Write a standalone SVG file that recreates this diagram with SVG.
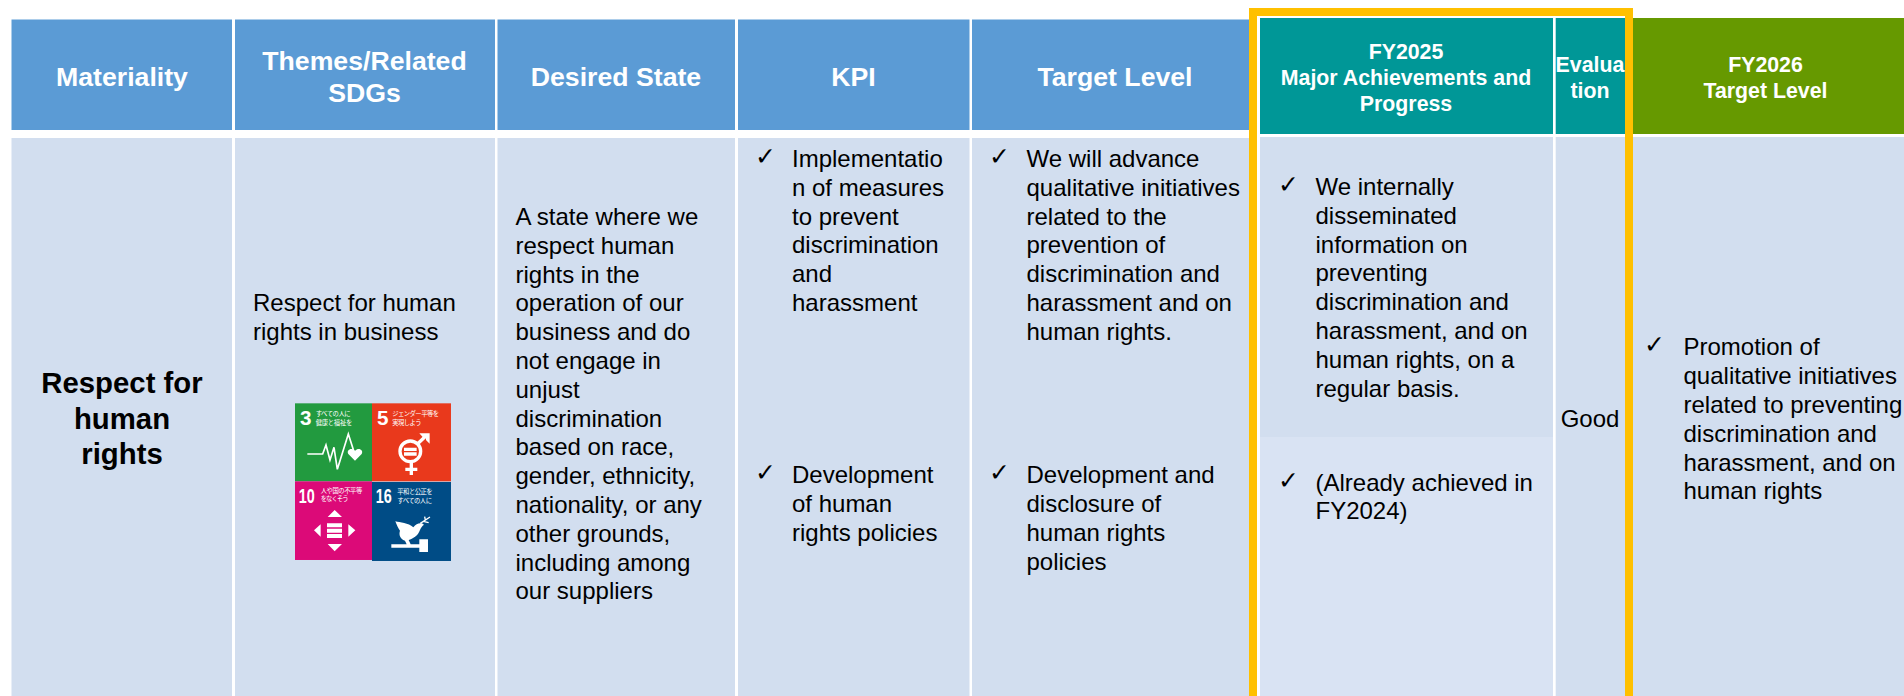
<svg xmlns="http://www.w3.org/2000/svg" width="1904" height="696" viewBox="0 0 1904 696">
<style>
text{font-family:"Liberation Sans",Arial,sans-serif}
.h{fill:#5B9BD5}.t{fill:#009797}.g{fill:#669900}.b{fill:#D2DEEF}.l{fill:#D9E3F3}
.hd{font-weight:700;font-size:26.67px;fill:#fff;text-anchor:middle}
.hs{font-weight:700;font-size:21.33px;fill:#fff;text-anchor:middle}
.tx{font-size:24px;fill:#000}
.ck{font-family:"DejaVu Sans",sans-serif;font-size:25px;fill:#000}
.n{font-weight:700;fill:#fff;font-size:62px}
.jp{font-family:"Noto Sans CJK JP",sans-serif;font-size:19px;fill:#fff}
.w{stroke:#fff;fill:none}
</style>
<rect width="1904" height="696" fill="#fff"/>
<g id="materiality">
<rect class="h" x="11.5" y="19.5" width="220.500" height="110.500"/>
<rect class="b" x="11.500" y="138" width="220.500" height="558"/>
<text class="hd" x="122" y="86">Materiality</text>
<text font-size="29.33" font-weight="700" text-anchor="middle"><tspan x="122" y="393">Respect for</tspan><tspan x="122" y="428.500">human</tspan><tspan x="122" y="464">rights</tspan></text>
</g>
<g id="themes">
<rect class="h" x="235" y="19.500" width="260" height="110.500"/>
<rect class="b" x="235" y="138" width="260" height="558"/>
<text class="hd"><tspan x="364.500" y="70">Themes/Related</tspan><tspan x="364.500" y="102">SDGs</tspan></text>
<text class="tx"><tspan x="253" y="311">Respect for human</tspan><tspan x="253" y="340">rights in business</tspan></text>
<g id="sdg-icons" transform="translate(280 390) scale(.3333)">
<rect x="45" y="40" width="231" height="234" fill="#229A3F"/>
<rect x="276" y="40" width="237" height="234" fill="#E9391C"/>
<rect x="45" y="274" width="231" height="236" fill="#DC0A78"/>
<rect x="276" y="276" width="237" height="237" fill="#004C86"/>
<text class="n" x="60" y="104">3</text>
<text class="jp"><tspan x="107" y="78" textLength="105">すべての人に</tspan><tspan x="107" y="104" textLength="110">健康と福祉を</tspan></text>
<polyline class="w" stroke-width="5" points="82,192 128,192 138,165 150,210 162,172 172,238 205,132 222,185"/>
<path fill="#fff" d="M225,212 L205,192 C198,180 215,170 225,183 C235,170 252,180 245,192 Z"/>
<text class="n" x="291" y="104">5</text>
<text class="jp"><tspan x="337" y="78" textLength="140">ジェンダー平等を</tspan><tspan x="337" y="104" textLength="88">実現しよう</tspan></text>
<circle class="w" cx="391" cy="184" r="31" stroke-width="10"/>
<path class="w" stroke-width="10" d="M372,178H410M372,192H410M394,216V255M376,238H412M413,161L440,136"/>
<path fill="#fff" d="M418,130H449V161L438,150V141H428Z"/>
<text class="n" x="56" y="338" textLength="48" lengthAdjust="spacingAndGlyphs">10</text>
<text class="jp"><tspan x="122" y="308" textLength="125">人や国の不平等</tspan><tspan x="122" y="334" textLength="84">をなくそう</tspan></text>
<path fill="#fff" d="M143,381H186L164,360ZM143,462H186L164,484ZM122,403V440L102,421ZM205,403V440L226,421ZM141,400H186V412H141ZM141,416H186V428H141ZM141,432H186V444H141Z"/>
<text class="n" x="287" y="340" textLength="48" lengthAdjust="spacingAndGlyphs">16</text>
<text class="jp"><tspan x="352" y="312" textLength="106">平和と公正を</tspan><tspan x="352" y="338" textLength="104">すべての人に</tspan></text>
<path fill="#fff" d="M346,394C360,398 385,398 400,412C408,402 416,398 426,400L432,404C426,408 424,412 420,420C414,438 398,446 386,450L392,463H380L375,452C360,446 356,434 360,422C354,414 350,404 346,394ZM334,463H418V473H334ZM418,448H444V486H418Z"/>
<path class="w" stroke-width="4" d="M421,400L450,381M430,394L446,398M436,390L434,380"/>
</g>
</g>
<g id="desired-state">
<rect class="h" x="497.500" y="19.500" width="237.500" height="110.500"/>
<rect class="b" x="497.500" y="138" width="237.500" height="558"/>
<text class="hd" x="616" y="86">Desired State</text>
<text class="tx"><tspan x="515.500" y="225">A state where we</tspan><tspan x="515.500" y="253.800">respect human</tspan><tspan x="515.500" y="282.600">rights in the</tspan><tspan x="515.500" y="311.400">operation of our</tspan><tspan x="515.500" y="340.200">business and do</tspan><tspan x="515.500" y="369">not engage in</tspan><tspan x="515.500" y="397.800">unjust</tspan><tspan x="515.500" y="426.600">discrimination</tspan><tspan x="515.500" y="455.400">based on race,</tspan><tspan x="515.500" y="484.200">gender, ethnicity,</tspan><tspan x="515.500" y="513">nationality, or any</tspan><tspan x="515.500" y="541.800">other grounds,</tspan><tspan x="515.500" y="570.600">including among</tspan><tspan x="515.500" y="599.400">our suppliers</tspan></text>
</g>
<g id="kpi">
<rect class="h" x="738" y="19.500" width="231.500" height="110.500"/>
<rect class="b" x="738" y="138" width="231.500" height="558"/>
<text class="hd" x="853.500" y="86">KPI</text>
<text class="ck" x="755" y="165">✓</text>
<text class="tx"><tspan x="792" y="167">Implementatio</tspan><tspan x="792" y="195.800">n of measures</tspan><tspan x="792" y="224.600">to prevent</tspan><tspan x="792" y="253.400">discrimination</tspan><tspan x="792" y="282.200">and</tspan><tspan x="792" y="311">harassment</tspan></text>
<text class="ck" x="755" y="481">✓</text>
<text class="tx"><tspan x="792" y="483">Development</tspan><tspan x="792" y="512">of human</tspan><tspan x="792" y="541">rights policies</tspan></text>
</g>
<g id="target-level">
<rect class="h" x="972" y="19.500" width="277" height="110.500"/>
<rect class="b" x="972" y="138" width="277" height="558"/>
<text class="hd" x="1115" y="86">Target Level</text>
<text class="ck" x="989" y="165">✓</text>
<text class="tx"><tspan x="1026.500" y="167">We will advance</tspan><tspan x="1026.500" y="195.800">qualitative initiatives</tspan><tspan x="1026.500" y="224.600">related to the</tspan><tspan x="1026.500" y="253.400">prevention of</tspan><tspan x="1026.500" y="282.200">discrimination and</tspan><tspan x="1026.500" y="311">harassment and on</tspan><tspan x="1026.500" y="339.800">human rights.</tspan></text>
<text class="ck" x="989" y="481">✓</text>
<text class="tx"><tspan x="1026.500" y="483">Development and</tspan><tspan x="1026.500" y="512">disclosure of</tspan><tspan x="1026.500" y="541">human rights</tspan><tspan x="1026.500" y="570">policies</tspan></text>
</g>
<g id="fy2025">
<rect class="t" x="1260" y="18" width="293" height="116"/>
<rect class="b" x="1260" y="137" width="293" height="300"/>
<rect class="l" x="1260" y="437" width="293" height="259"/>
<text class="hs"><tspan x="1406" y="59">FY2025</tspan><tspan x="1406" y="85">Major Achievements and</tspan><tspan x="1406" y="111">Progress</tspan></text>
<text class="ck" x="1278" y="193">✓</text>
<text class="tx"><tspan x="1315.500" y="195">We internally</tspan><tspan x="1315.500" y="223.800">disseminated</tspan><tspan x="1315.500" y="252.600">information on</tspan><tspan x="1315.500" y="281.400">preventing</tspan><tspan x="1315.500" y="310.200">discrimination and</tspan><tspan x="1315.500" y="339">harassment, and on</tspan><tspan x="1315.500" y="367.800">human rights, on a</tspan><tspan x="1315.500" y="396.600">regular basis.</tspan></text>
<text class="ck" x="1278" y="489">✓</text>
<text class="tx"><tspan x="1315.500" y="491">(Already achieved in</tspan><tspan x="1315.500" y="519">FY2024)</tspan></text>
</g>
<g id="evaluation">
<rect class="t" x="1555.700" y="18" width="73" height="116"/>
<rect class="b" x="1555.700" y="137" width="73" height="559"/>
<text class="hs"><tspan x="1590" y="72">Evalua</tspan><tspan x="1590" y="98">tion</tspan></text>
<text class="tx" x="1590" y="427" text-anchor="middle">Good</text>
</g>
<g id="fy2026">
<rect class="g" x="1629" y="18" width="275" height="116"/>
<rect class="b" x="1629" y="137" width="275" height="559"/>
<text class="hs"><tspan x="1765.500" y="72">FY2026</tspan><tspan x="1765.500" y="98">Target Level</tspan></text>
<text class="ck" x="1644" y="353">✓</text>
<text class="tx"><tspan x="1683.500" y="355">Promotion of</tspan><tspan x="1683.500" y="384">qualitative initiatives</tspan><tspan x="1683.500" y="413">related to preventing</tspan><tspan x="1683.500" y="442">discrimination and</tspan><tspan x="1683.500" y="470.500">harassment, and on</tspan><tspan x="1683.500" y="499">human rights</tspan></text>
</g>
<path id="frame" d="M1253,696V12H1629V696" fill="none" stroke="#FFC000" stroke-width="8"/>
</svg>
